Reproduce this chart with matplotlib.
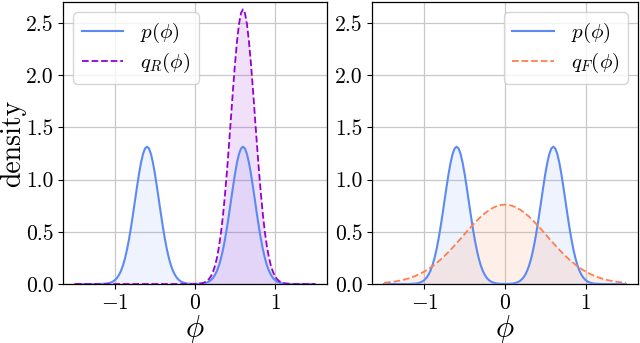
import numpy as np
import matplotlib
matplotlib.use('Agg')
import matplotlib.pyplot as plt

# --- fonts: Computer Modern look ---
plt.rcParams['font.family'] = 'serif'
plt.rcParams['font.serif'] = ['cmr10']
plt.rcParams['mathtext.fontset'] = 'cm'
plt.rcParams['axes.formatter.use_mathtext'] = True

# --- DATA ---
# narrow curves sampled every 0.025 on [-1.5, 1.5]
phi = np.linspace(-1.5, 1.5, 121)

# target p(phi): symmetric bimodal, half listed for phi = 0.000 ... 1.500
p_half = [0.001, 0.001, 0.002, 0.003, 0.005, 0.009, 0.015, 0.024, 0.038, 0.058,
          0.087, 0.126, 0.178, 0.245, 0.328, 0.427, 0.541, 0.666, 0.798, 0.929,
          1.053, 1.160, 1.244, 1.297, 1.315, 1.297, 1.244, 1.160, 1.053, 0.929,
          0.798, 0.666, 0.541, 0.427, 0.328, 0.245, 0.178, 0.126, 0.087, 0.058,
          0.038, 0.024, 0.015, 0.009, 0.005, 0.003, 0.002, 0.001, 0.000, 0.000,
          0.000, 0.000, 0.000, 0.000, 0.000, 0.000, 0.000, 0.000, 0.000, 0.000,
          0.000]
p_vals = np.array(p_half[:0:-1] + p_half)

# reverse-KL fit q_R(phi): sits on the right mode, zero for phi < 0
qR_pos = [0.002, 0.002, 0.004, 0.006, 0.010, 0.018, 0.029, 0.048, 0.075, 0.116,
          0.173, 0.252, 0.356, 0.490, 0.656, 0.854, 1.081, 1.332, 1.595, 1.858,
          2.106, 2.320, 2.488, 2.594, 2.630, 2.594, 2.488, 2.320, 2.106, 1.858,
          1.595, 1.332, 1.081, 0.854, 0.656, 0.490, 0.356, 0.252, 0.173, 0.116,
          0.075, 0.048, 0.029, 0.018, 0.010, 0.006, 0.004, 0.002, 0.001, 0.000,
          0.000, 0.000, 0.000, 0.000, 0.000, 0.000, 0.000, 0.000, 0.000, 0.000,
          0.000]
qR_vals = np.array([0.0] * 60 + qR_pos)

# forward-KL fit q_F(phi): broad, symmetric, sampled every 0.05, half for 0.00 ... 1.50
phi_F = np.linspace(-1.5, 1.5, 61)
qF_half = [0.760, 0.757, 0.746, 0.729, 0.706, 0.677, 0.644, 0.606, 0.565, 0.523,
           0.479, 0.434, 0.391, 0.348, 0.307, 0.269, 0.233, 0.200, 0.170, 0.143,
           0.120, 0.099, 0.081, 0.066, 0.053, 0.042, 0.033, 0.026, 0.020, 0.016,
           0.012]
qF_vals = np.array(qF_half[:0:-1] + qF_half)

c_p = '#5b8af5'
c_qR = '#9400d3'
c_qF = '#ff7f50'

fig = plt.figure(figsize=(6.4, 3.43), dpi=100)
ax1 = fig.add_axes([0.0984, 0.172, 0.4125, 0.822])
ax2 = fig.add_axes([0.5812, 0.172, 0.4156, 0.822])

panels = [(ax1, phi, qR_vals, c_qR, r'$q_R(\phi)$'),
          (ax2, phi_F, qF_vals, c_qF, r'$q_F(\phi)$')]

for ax, x_q, q_vals, c_q, q_label in panels:
    ax.plot(phi, p_vals, color=c_p, lw=1.5, label=r'$p(\phi)$', zorder=3)
    ax.fill_between(phi, 0, p_vals, color=c_p, alpha=0.1, lw=0, zorder=2)
    ax.plot(x_q, q_vals, color=c_q, lw=1.3, ls='--', label=q_label, zorder=3)
    ax.fill_between(x_q, 0, q_vals, color=c_q, alpha=0.12, lw=0, zorder=2)

    ax.set_xlim(-1.65, 1.65)
    ax.set_ylim(0, 2.7)
    ax.set_xticks([-1, 0, 1])
    ax.set_yticks([0, 0.5, 1.0, 1.5, 2.0, 2.5])
    ax.set_yticklabels(['0.0', '0.5', '1.0', '1.5', '2.0', '2.5'])
    ax.grid(True, color='#c8c8c8', lw=0.9, zorder=0)
    ax.set_axisbelow(True)
    ax.tick_params(labelsize=15.5, length=3.5, width=0.8, pad=3)
    for s in ax.spines.values():
        s.set_linewidth(0.9)
    ax.set_xlabel(r'$\phi$', fontsize=22, labelpad=0)

ax1.set_ylabel('density', fontsize=20)
ax1.yaxis.set_label_coords(-0.14, 0.5)
leg_kw = dict(fontsize=15, handlelength=2.0, borderpad=0.4,
              labelspacing=0.3, handletextpad=0.8)
ax1.legend(loc='upper left', **leg_kw)
ax2.legend(loc='upper right', **leg_kw)

fig.savefig('out.png', dpi=100)
